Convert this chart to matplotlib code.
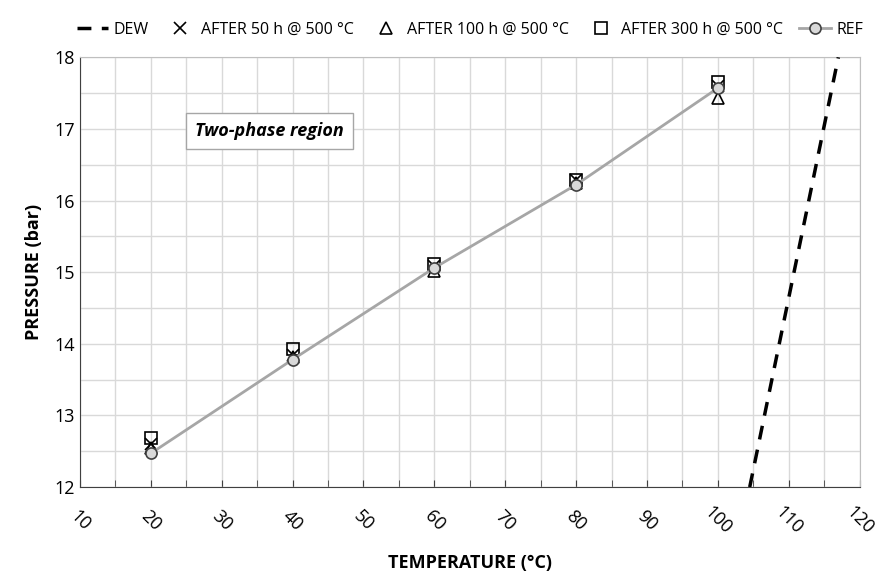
import numpy as np
import matplotlib.pyplot as plt
from matplotlib.ticker import MultipleLocator

plt.rcParams['font.family'] = ['Open Sans', 'DejaVu Sans']

# data
temp = [20, 40, 60, 80, 100]
p_ref = [12.47, 13.78, 15.06, 16.22, 17.57]
p_50h = [12.60, 13.85, 15.08, 16.28, 17.60]
p_100h = [12.55, 13.82, 15.02, 16.25, 17.43]
p_300h = [12.68, 13.93, 15.12, 16.28, 17.66]
dew_t = [104.5, 117.0]
dew_p = [12.0, 18.0]

fig = plt.figure(figsize=[8.88, 5.73], dpi=100)
ax = fig.add_axes([0.090, 0.150, 0.878, 0.750])

ax.plot(dew_t, dew_p, "k--", lw=2.5, dashes=(4, 3), label="DEW", zorder=3)
ax.plot(temp, p_50h, "kx", ms=8, mew=1.2, label="AFTER 50 h @ 500 °C", zorder=4)
ax.plot(temp, p_100h, "k^", ms=8, mfc="none", mew=1.2, label="AFTER 100 h @ 500 °C", zorder=4)
ax.plot(temp, p_300h, "ks", ms=8, mfc="none", mew=1.2, label="AFTER 300 h @ 500 °C", zorder=4)
ax.plot(temp, p_ref, "-o", color="#a6a6a6", lw=2, ms=8, mfc="#d9d9d9", mec="#404040",
        mew=1.2, label="REF", zorder=5)

ax.set_xlim(10, 120)
ax.set_ylim(12, 18)
ax.xaxis.set_major_locator(MultipleLocator(10))
ax.xaxis.set_minor_locator(MultipleLocator(5))
ax.yaxis.set_major_locator(MultipleLocator(1))
ax.yaxis.set_minor_locator(MultipleLocator(0.5))
ax.grid(which="both", color="#d9d9d9", lw=1)
ax.set_axisbelow(True)

for s in ["top", "right"]:
    ax.spines[s].set_color("#bfbfbf")
ax.spines["left"].set_color("#404040")
ax.spines["bottom"].set_color("#404040")
ax.tick_params(axis="x", which="both", direction="in", length=5, color="#404040")
ax.tick_params(axis="y", which="both", length=0)
ax.tick_params(labelsize=13)
plt.setp(ax.get_xticklabels(), rotation=-45, ha="center", va="center", rotation_mode="anchor")
ax.tick_params(axis="x", pad=24)

ax.set_xlabel("TEMPERATURE (°C)", fontsize=13, fontweight="bold")
ax.xaxis.set_label_coords(0.5, -0.155)
ax.set_ylabel("PRESSURE (bar)", fontsize=13, fontweight="bold", labelpad=8)

ax.text(36.8, 16.97, "Two-phase region", fontsize=13, fontweight="bold", style="italic",
        ha="center", va="center",
        bbox=dict(boxstyle="square,pad=0.5", fc="white", ec="#a6a6a6", lw=1))

ax.legend(loc="lower center", bbox_to_anchor=(0.5, 1.03), ncol=5, frameon=False,
          fontsize=11.5, handlelength=2.0, handletextpad=0.3, columnspacing=1.0,
          borderaxespad=0)

plt.savefig("out.png", dpi=100)
